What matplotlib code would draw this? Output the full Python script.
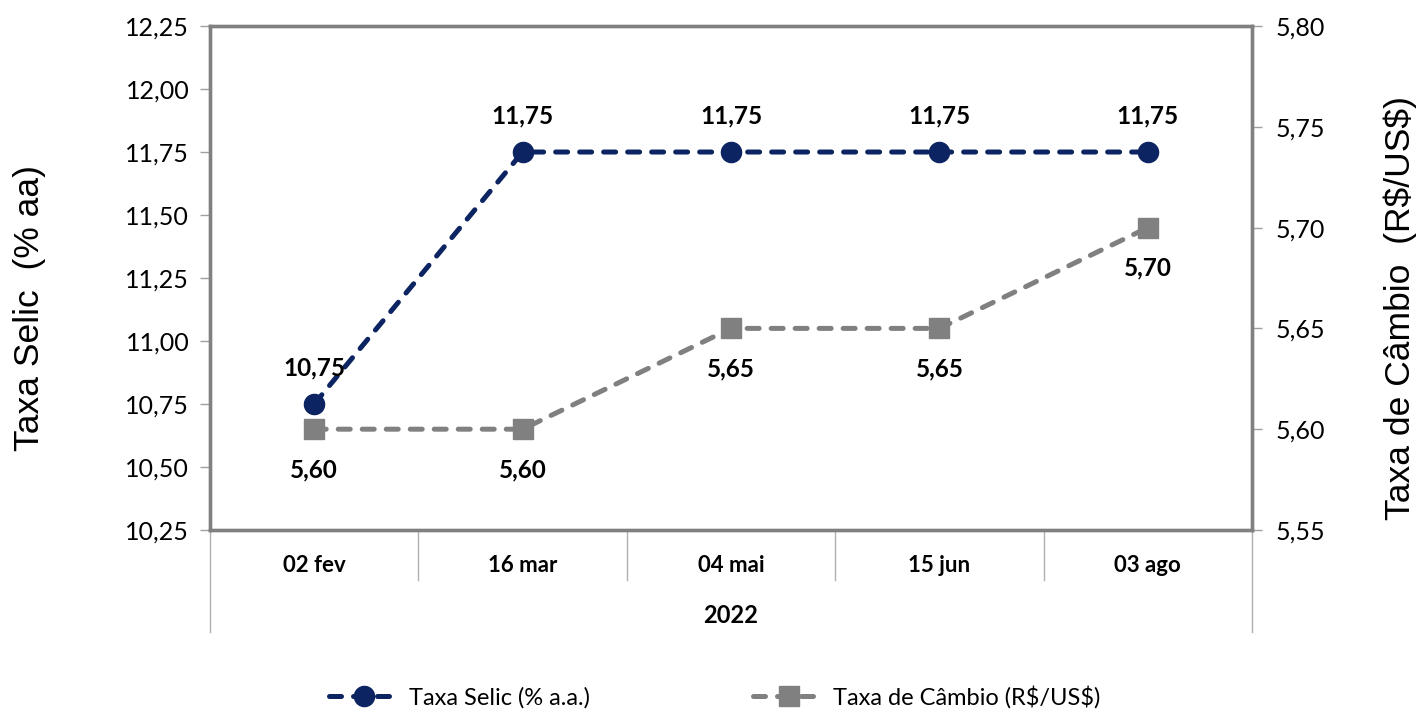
import matplotlib.pyplot as plt
from matplotlib.ticker import FixedLocator, FuncFormatter

# dados
categorias = ["02 fev", "16 mar", "04 mai", "15 jun", "03 ago"]
ano = "2022"
selic = [10.75, 11.75, 11.75, 11.75, 11.75]
cambio = [5.60, 5.60, 5.65, 5.65, 5.70]

azul = "#0c2461"
cinza = "#808080"
fonte = ["Lato", "DejaVu Sans"]


def virgula(v, pos=None):
    return f"{v:.2f}".replace(".", ",")


fig = plt.figure(figsize=(14.24, 7.11), dpi=100)
ax = fig.add_axes([0.1475, 0.2546, 0.7317, 0.7088])
ax2 = ax.twinx()

x = list(range(len(categorias)))

traco = (0, (2.4, 2.4))
ax.plot(x, selic, color=azul, lw=3.6, ls=traco, dash_capstyle="round",
        marker="o", ms=14.5, label="Taxa Selic (% a.a.)", zorder=3)
ax2.plot(x, cambio, color=cinza, lw=3.6, ls=traco, dash_capstyle="round",
         marker="s", ms=14, label="Taxa de Câmbio (R\\$/US\\$)", zorder=3)

ax.set_xlim(-0.5, len(categorias) - 0.5)
ax.set_ylim(10.25, 12.25)
ax2.set_ylim(5.55, 5.80)
ax.yaxis.set_major_locator(FixedLocator([10.25 + 0.25 * i for i in range(9)]))
ax2.yaxis.set_major_locator(FixedLocator([5.55 + 0.05 * i for i in range(6)]))
ax.yaxis.set_major_formatter(FuncFormatter(virgula))
ax2.yaxis.set_major_formatter(FuncFormatter(virgula))

for a in (ax, ax2):
    for s in a.spines.values():
        s.set_color(cinza)
        s.set_linewidth(2.4)
    a.tick_params(axis="y", length=7, width=1, color="#a0a0a0", labelsize=18,
                  pad=6, labelfontfamily="Lato")
    a.set_xticks([])
ax.tick_params(axis="y", pad=8)
ax2.tick_params(axis="y", pad=10)

ax.set_ylabel("Taxa Selic  (% aa)", fontsize=25.5, family="Liberation Sans",
              labelpad=57)
ax2.set_ylabel("Taxa de Câmbio  (R\\$/US\\$)", fontsize=25.5,
               family="Liberation Sans", labelpad=42)
ax.yaxis.label.set_y(0.44)
ax2.yaxis.label.set_y(0.44)

# rótulos de dados
for xi, v in zip(x, selic):
    ax.annotate(virgula(v), (xi, v), xytext=(0, 26), textcoords="offset points",
                ha="center", va="center", fontsize=17.5, fontweight="bold",
                family=fonte)
for xi, v in zip(x, cambio):
    ax2.annotate(virgula(v), (xi, v), xytext=(0, -29), textcoords="offset points",
                 ha="center", va="center", fontsize=17.5, fontweight="bold",
                 family=fonte)

# eixo de categorias em dois níveis
tr = ax.get_xaxis_transform()
for i in range(1, len(categorias)):
    ax.plot([i - 0.5, i - 0.5], [0, -0.099], transform=tr, color="#b0b0b0",
            lw=1, clip_on=False)
for xb in (-0.5, len(categorias) - 0.5):
    ax.plot([xb, xb], [0, -0.202], transform=tr, color="#b0b0b0", lw=1,
            clip_on=False)
for xi, c in zip(x, categorias):
    ax.text(xi, -0.071, c, transform=tr, ha="center", va="center", fontsize=16,
            fontweight="bold", family=fonte)
ax.text((len(categorias) - 1) / 2, -0.169, ano, transform=tr, ha="center",
        va="center", fontsize=17, fontweight="bold", family=fonte)

h1, l1 = ax.get_legend_handles_labels()
h2, l2 = ax2.get_legend_handles_labels()
fig.legend(h1 + h2, l1 + l2, loc="center", bbox_to_anchor=(0.502, 0.02), ncol=2,
           frameon=False, columnspacing=6.9, handlelength=3.0, handletextpad=0.4,
           prop={"family": fonte, "size": 17})

fig.savefig("out.png", dpi=100)
